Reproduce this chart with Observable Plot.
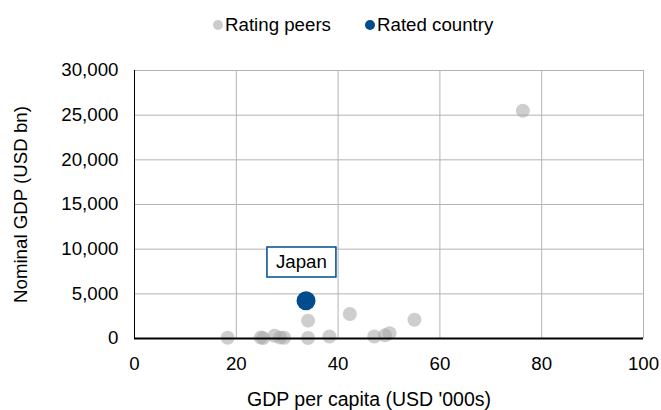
<!DOCTYPE html>
<html>
<head>
<meta charset="utf-8">
<script src="https://cdn.jsdelivr.net/npm/d3@7"></script>
<script src="https://cdn.jsdelivr.net/npm/@observablehq/plot@0.6"></script>
<style>
  body { margin: 0; background: #fff; font-family: "Liberation Sans", Arial, sans-serif; }
  #legend { height: 40px; position: relative; font-size: 18.7px; color: #000; }
  #legend .item { position: absolute; top: 14px; display: flex; align-items: center; white-space: nowrap; }
  #legend .sw { width: 10px; height: 10px; border-radius: 50%; margin-right: 2px; }
</style>
</head>
<body>
<div id="legend"></div>
<div id="chart"></div>
<script>
// Rating peers: GDP per capita (USD '000s) and nominal GDP (USD bn)
const peerX = [76.3, 34.1, 42.3, 55.0, 18.3, 24.8, 25.3, 27.5, 28.6, 29.4, 34.1, 38.3, 47.1, 49.2, 50.1];
const peerY = [25500, 2000, 2750, 2100, 80, 100, 60, 300, 100, 80, 50, 230, 220, 350, 600];
// Rated country
const ratedName = ["Japan"];
const ratedX = [33.7];
const ratedY = [4230];
const xTicks = [0, 20, 40, 60, 80, 100];
const yTicks = [0, 5000, 10000, 15000, 20000, 25000, 30000];
const xTitle = ["GDP per capita (USD '000s)"];
const yTitle = "Nominal GDP (USD bn)";
const legendLabels = ["Rating peers", "Rated country"];
const peerColor = "#a6a6a6";
const ratedColor = "#004c8f";

const peers = peerX.map((x, i) => ({x, y: peerY[i]}));
const rated = ratedX.map((x, i) => ({x, y: ratedY[i], name: ratedName[i]}));

const boxSymbol = { draw(ctx) { ctx.rect(-34.5, -15, 69, 30); } };
const FS = 18.7;

const plot = Plot.plot({
  width: 661,
  height: 370,
  marginTop: 30,
  marginBottom: 72,
  marginLeft: 134,
  marginRight: 18,
  style: { fontFamily: "Liberation Sans, Arial, sans-serif", fontSize: FS + "px", color: "#000", background: "#fff", overflow: "visible" },
  x: { domain: [0, 100], ticks: xTicks },
  y: { domain: [0, 30000], ticks: yTicks },
  marks: [
    Plot.gridX(xTicks, { stroke: "#b3b3b3", strokeOpacity: 1, strokeWidth: 1 }),
    Plot.gridY(yTicks, { stroke: "#b3b3b3", strokeOpacity: 1, strokeWidth: 1 }),
    Plot.ruleX([0], { stroke: "#000", strokeWidth: 1 }),
    Plot.axisX(xTicks, { tickSize: 0, tickPadding: 18, tickFormat: d => d, fontSize: FS, label: null }),
    Plot.text(xTitle, { frameAnchor: "bottom", text: d => d, dx: -20, dy: 67.5, lineAnchor: "bottom", fontSize: 19.5, fill: "#000" }),
    Plot.axisY(yTicks, { tickSize: 0, tickPadding: 16, tickFormat: d3.format(","), fontSize: FS,
      label: yTitle, labelAnchor: "center", labelArrow: "none", labelOffset: 121 }),
    Plot.dot(peers, { x: "x", y: "y", r: 7, fill: peerColor, fillOpacity: 0.55, stroke: "none" }),
    Plot.dot(rated, { x: "x", y: "y", r: 9.5, fill: ratedColor, stroke: "none" }),
    Plot.dot(rated, { x: "x", y: "y", symbol: boxSymbol, r: 1, dx: -4.6, dy: -38.7, fill: "#fff", stroke: ratedColor, strokeWidth: 1.5 }),
    Plot.text(rated, { x: "x", y: "y", text: "name", dx: -4.6, dy: -38.7, fontSize: FS, fill: "#000" }),
    Plot.ruleY([0], { stroke: "#000", strokeWidth: 2 })
  ]
});
document.getElementById("chart").appendChild(plot);

const legend = document.getElementById("legend");
const lefts = [213, 365];
const colors = ["#cccccc", ratedColor];
legendLabels.forEach((t, i) => {
  const it = document.createElement("div");
  it.className = "item";
  it.style.left = lefts[i] + "px";
  const sw = document.createElement("span");
  sw.className = "sw";
  sw.style.background = colors[i];
  it.appendChild(sw);
  const tx = document.createElement("span");
  tx.textContent = t;
  it.appendChild(tx);
  legend.appendChild(it);
});
</script>
</body>
</html>
